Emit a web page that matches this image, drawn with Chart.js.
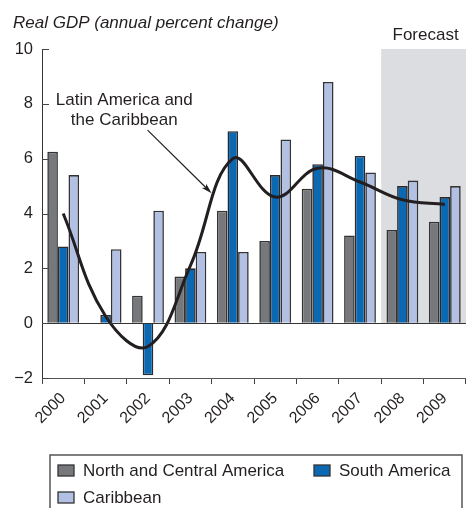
<!DOCTYPE html>
<html>
<head>
<meta charset="utf-8">
<script src="https://cdn.jsdelivr.net/npm/chart.js@4.4.1/dist/chart.umd.min.js"></script>
<style>
  html, body { margin: 0; padding: 0; background: #fff; }
</style>
</head>
<body>
<canvas id="gdpChart" width="466" height="508"></canvas>
<script>
// data
const years = ["2000", "2001", "2002", "2003", "2004", "2005", "2006", "2007", "2008", "2009"];
const northCentral = [6.25, null, 1.0, 1.7, 4.1, 3.0, 4.9, 3.2, 3.4, 3.7];
const southAmerica = [2.8, 0.3, -1.9, 2.0, 7.0, 5.4, 5.8, 6.1, 5.0, 4.6];
const caribbean = [5.4, 2.7, 4.1, 2.6, 2.6, 6.7, 8.8, 5.5, 5.2, 5.0];
const latinAmerica = [4.0, 0.25, -0.85, 2.1, 6.0, 4.6, 5.65, 5.15, 4.5, 4.33];
const yTicks = [-2, 0, 2, 4, 6, 8, 10];
const forecastFrom = "2008";

const ink = "#231f20";
const fontFamily = "'Liberation Sans', Arial, sans-serif";
Chart.defaults.font.family = fontFamily;
Chart.defaults.color = ink;

// shaded forecast box, zero line, inside y ticks, title, notes, legend
const decorations = {
  id: "decorations",
  beforeDatasetsDraw(chart) {
    const { ctx, chartArea, scales: { x, y } } = chart;
    const step = x.getPixelForValue(1) - x.getPixelForValue(0);
    const fLeft = x.getPixelForValue(years.indexOf(forecastFrom)) - step / 2;
    ctx.save();
    ctx.fillStyle = "#dcdde0";
    ctx.fillRect(fLeft, y.getPixelForValue(10), chartArea.right - fLeft, y.getPixelForValue(0) - y.getPixelForValue(10));
    ctx.restore();
  },
  afterDatasetsDraw(chart) {
    const { ctx, chartArea, scales: { y } } = chart;
    ctx.save();
    // zero line
    ctx.strokeStyle = "#333";
    ctx.lineWidth = 1;
    const y0 = Math.round(y.getPixelForValue(0)) + 0.5;
    ctx.beginPath();
    ctx.moveTo(chartArea.left, y0);
    ctx.lineTo(chartArea.right, y0);
    ctx.stroke();
    // y ticks pointing inward
    ctx.strokeStyle = "#444";
    yTicks.forEach(v => {
      const py = Math.round(y.getPixelForValue(v)) + 0.5;
      ctx.beginPath();
      ctx.moveTo(chartArea.left, py);
      ctx.lineTo(chartArea.left + 7, py);
      ctx.stroke();
    });
    ctx.restore();
  },
  afterDraw(chart) {
    const { ctx, chartArea, scales: { x, y } } = chart;
    const step = x.getPixelForValue(1) - x.getPixelForValue(0);
    const fLeft = x.getPixelForValue(years.indexOf(forecastFrom)) - step / 2;
    ctx.save();
    ctx.fillStyle = ink;
    ctx.textBaseline = "alphabetic";

    // title
    ctx.font = "italic 17px " + fontFamily;
    ctx.textAlign = "left";
    ctx.fillText("Real GDP (annual percent change)", 13, 28);

    // forecast label
    ctx.font = "17px " + fontFamily;
    ctx.textAlign = "center";
    ctx.fillText("Forecast", (fLeft + chartArea.right) / 2 + 2, chartArea.top - 9);

    // line note + arrow
    ctx.fillText("Latin America and", x.getPixelForValue(1.44), y.getPixelForValue(7.95));
    ctx.fillText("the Caribbean", x.getPixelForValue(1.44), y.getPixelForValue(7.22));
    const ax0 = x.getPixelForValue(1.99), ay0 = y.getPixelForValue(7.04);
    const ax1 = x.getPixelForValue(3.5), ay1 = y.getPixelForValue(4.74);
    const ang = Math.atan2(ay1 - ay0, ax1 - ax0);
    ctx.strokeStyle = ink;
    ctx.lineWidth = 1.2;
    ctx.beginPath();
    ctx.moveTo(ax0, ay0);
    ctx.lineTo(ax1 - 6 * Math.cos(ang), ay1 - 6 * Math.sin(ang));
    ctx.stroke();
    ctx.beginPath();
    ctx.moveTo(ax1, ay1);
    ctx.lineTo(ax1 - 11 * Math.cos(ang - 0.28), ay1 - 11 * Math.sin(ang - 0.28));
    ctx.lineTo(ax1 - 8 * Math.cos(ang), ay1 - 8 * Math.sin(ang));
    ctx.lineTo(ax1 - 11 * Math.cos(ang + 0.28), ay1 - 11 * Math.sin(ang + 0.28));
    ctx.closePath();
    ctx.fill();

    // legend box
    ctx.strokeStyle = "#555";
    ctx.lineWidth = 1.5;
    ctx.strokeRect(50, 455, 412, 70);
    const spots = [[58, 465], [314, 465], [58, 492]];
    ctx.font = "17px " + fontFamily;
    ctx.textAlign = "left";
    ctx.lineWidth = 1.3;
    chart.data.datasets.filter(d => d.type !== "line").forEach((d, i) => {
      const [lx, ly] = spots[i];
      ctx.fillStyle = d.backgroundColor;
      ctx.fillRect(lx, ly, 16, 11);
      ctx.strokeStyle = "#333";
      ctx.strokeRect(lx, ly, 16, 11);
      ctx.fillStyle = ink;
      ctx.fillText(d.label, lx + 25, ly + 11);
    });
    ctx.restore();
  }
};

new Chart(document.getElementById("gdpChart"), {
  type: "bar",
  data: {
    labels: years,
    datasets: [
      {
        type: "line",
        label: "Latin America and the Caribbean",
        data: latinAmerica,
        borderColor: ink,
        borderWidth: 3,
        pointRadius: 0,
        tension: 0.4,
        fill: false,
        order: 0
      },
      { label: "North and Central America", data: northCentral, backgroundColor: "#77787b", borderColor: "#333", borderWidth: 1.6, order: 1 },
      { label: "South America", data: southAmerica, backgroundColor: "#0b69b3", borderColor: "#2a2a2e", borderWidth: 1.6, order: 1 },
      { label: "Caribbean", data: caribbean, backgroundColor: "#b2c0e4", borderColor: "#333", borderWidth: 1.6, order: 1 }
    ]
  },
  options: {
    responsive: false,
    animation: false,
    devicePixelRatio: 1,
    layout: { padding: { top: 49, right: 0, bottom: 0, left: 0 } },
    datasets: { bar: { categoryPercentage: 0.75, barPercentage: 1.0 } },
    plugins: { legend: { display: false }, tooltip: { enabled: false } },
    scales: {
      x: {
        grid: { display: true, offset: true, drawOnChartArea: false, drawTicks: true, tickLength: 6, color: "#444" },
        border: { display: true, color: "#555", width: 1 },
        ticks: { minRotation: 45, maxRotation: 45, padding: 5, font: { size: 16 }, color: ink },
        afterFit(scale) { scale.height = 130; }
      },
      y: {
        min: -2,
        max: 10,
        afterBuildTicks(scale) { scale.ticks = yTicks.map(v => ({ value: v })); },
        grid: { display: true, drawOnChartArea: false, drawTicks: false },
        border: { display: true, color: "#333", width: 1 },
        ticks: {
          padding: 9,
          font: { size: 16.5 },
          color: ink,
          callback: v => String(v).replace("-", "\u2212")
        },
        afterFit(scale) { scale.width = 42; }
      }
    }
  },
  plugins: [decorations]
});
</script>
</body>
</html>
